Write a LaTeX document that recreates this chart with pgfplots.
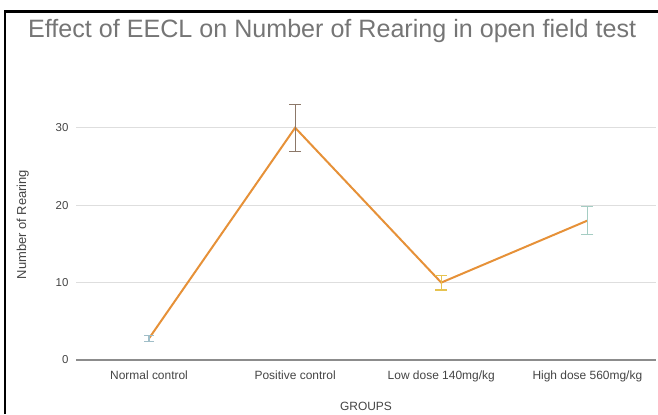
\documentclass[border=0pt]{standalone}
\usepackage{pgfplots}
\pgfplotsset{compat=1.18}
\usepackage{fontspec}
\setmainfont{Liberation Sans}
\setsansfont{Liberation Sans}

\definecolor{lineorange}{RGB}{230,145,56}
\definecolor{titlegray}{RGB}{117,117,117}
\definecolor{labelgray}{RGB}{68,68,68}
\definecolor{gridgray}{RGB}{222,222,222}
\definecolor{axisgray}{RGB}{140,140,140}
\definecolor{errA}{RGB}{160,190,200}
\definecolor{errB}{RGB}{140,120,105}
\definecolor{errC}{RGB}{230,195,80}
\definecolor{errD}{RGB}{165,205,195}

\begin{document}
\begin{tikzpicture}[x=1bp,y=1bp]
\useasboundingbox (0,0) rectangle (658,414);
% frame on the left and top
\draw[black, line width=2.2bp] (5,0) -- (5,402.5) -- (658,402.5);
% title
\node[anchor=west, text=titlegray, font=\fontsize{25.2}{27}\selectfont, inner sep=0pt] at (28,383) {Effect of EECL on Number of Rearing in open field test};
\begin{axis}[
  at={(76bp,54bp)}, anchor=south west,
  scale only axis, width=580bp, height=271bp,
  xmin=-0.5, xmax=3.47, ymin=0, ymax=35,
  axis line style={draw=none},
  xtick={0,1,2,3},
  xticklabels={Normal control, Positive control, Low dose 140mg/kg, High dose 560mg/kg},
  ytick={0,10,20,30},
  xtick pos=bottom, ytick pos=left,
  ymajorgrids, grid style={gridgray, line width=0.8bp},
  major tick length=0pt,
  tick style={draw=none},
  ticklabel style={text=labelgray},
  yticklabel style={font=\fontsize{11.5}{12}\selectfont, xshift=-4bp},
  xticklabel style={font=\fontsize{12}{13}\selectfont, yshift=-7bp},
  /pgf/number format/assume math mode=true,
  xlabel={GROUPS}, xlabel style={text=labelgray, font=\fontsize{12}{13}\selectfont, yshift=-14bp},
  ylabel={Number of Rearing}, ylabel style={text=labelgray, font=\fontsize{13}{14}\selectfont, yshift=20bp},
  clip=false,
]
% baseline
\draw[axisgray, line width=1.2bp] (axis cs:-0.5,0) -- (axis cs:3.47,0);
% mean number of rearings
\addplot[lineorange, line width=2bp, no marks] coordinates {(0,2.8) (1,30) (2,10) (3,18)};
% error bars per group
\addplot[draw=none, no marks, forget plot, error bars/.cd, y dir=both, y explicit,
  error bar style={errA, line width=1.2bp}, error mark options={rotate=90, mark size=5bp, errA, line width=1.2bp}]
  coordinates {(0,2.8) +- (0,0.4)};
\addplot[draw=none, no marks, forget plot, error bars/.cd, y dir=both, y explicit,
  error bar style={errB, line width=1.2bp}, error mark options={rotate=90, mark size=6bp, errB, line width=1.2bp}]
  coordinates {(1,30) +- (0,3.05)};
\addplot[draw=none, no marks, forget plot, error bars/.cd, y dir=both, y explicit,
  error bar style={errC, line width=1.2bp}, error mark options={rotate=90, mark size=6bp, errC, line width=1.2bp}]
  coordinates {(2,10) +- (0,0.95)};
\addplot[draw=none, no marks, forget plot, error bars/.cd, y dir=both, y explicit,
  error bar style={errD, line width=1.2bp}, error mark options={rotate=90, mark size=6bp, errD, line width=1.2bp}]
  coordinates {(3,18) +- (0,1.8)};
\end{axis}
\end{tikzpicture}
\end{document}
